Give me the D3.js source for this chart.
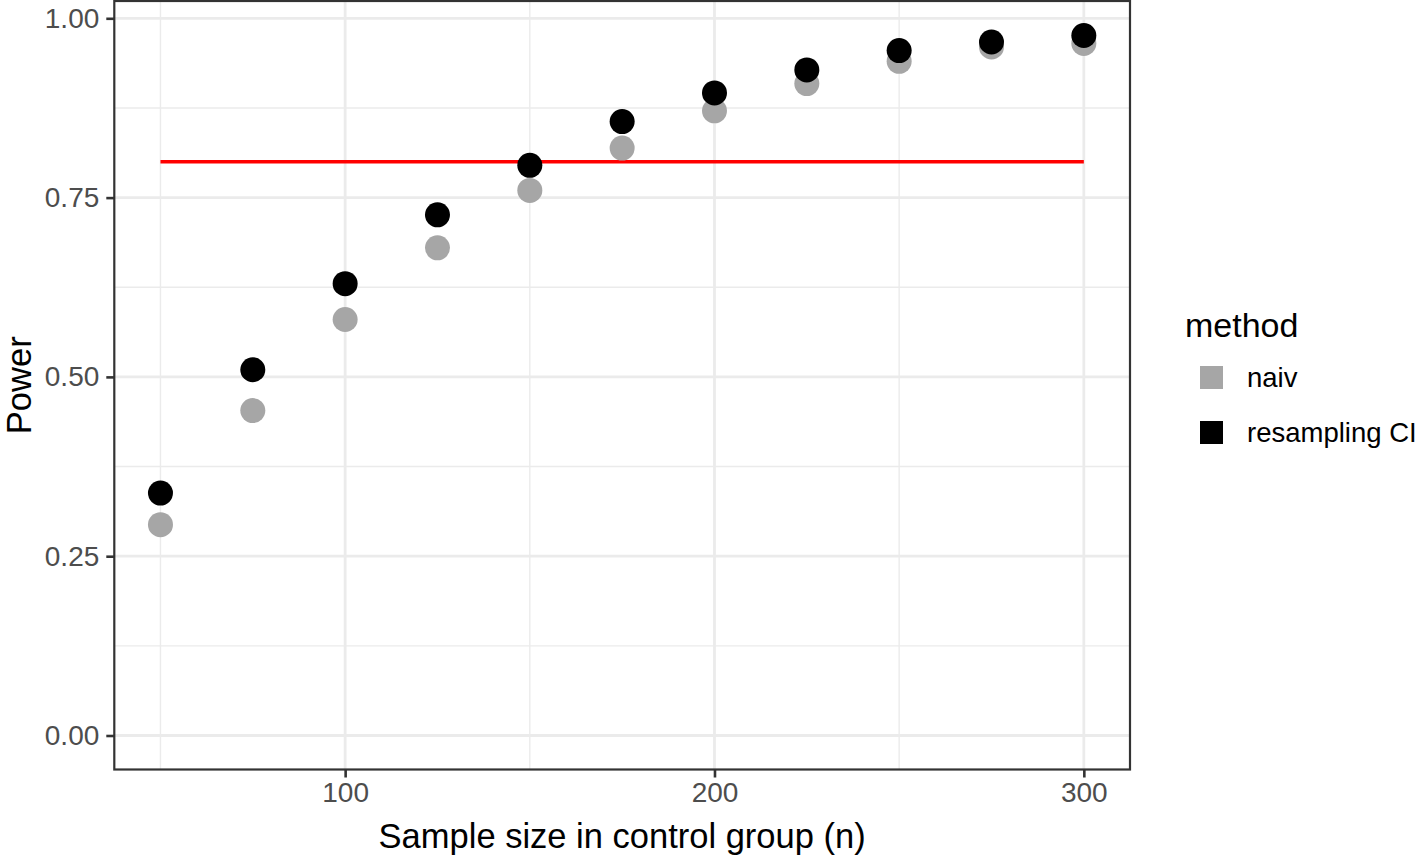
<!DOCTYPE html>
<html>
<head>
<meta charset="utf-8">
<script src="https://cdn.jsdelivr.net/npm/d3@7"></script>
<style>
  body { margin: 0; background: #fff; }
  text { font-family: "Liberation Sans", Arial, Helvetica, sans-serif; }
</style>
</head>
<body>
<div id="chartContainer"></div>
<script>
// data
var sampleSizes = [50, 75, 100, 125, 150, 175, 200, 225, 250, 275, 300];
var naivPower = [0.294, 0.453, 0.580, 0.680, 0.760, 0.819, 0.871, 0.909, 0.940, 0.960, 0.965];
var resamplingPower = [0.338, 0.510, 0.630, 0.726, 0.795, 0.856, 0.896, 0.928, 0.955, 0.967, 0.976];
var targetPower = 0.8;
var xTicks = [100, 200, 300];
var xMinor = [50, 150, 250];
var yTicks = [0, 0.25, 0.5, 0.75, 1];
var yMinor = [0.125, 0.375, 0.625, 0.875];
var methods = ["naiv", "resampling CI"];
var methodColors = ["#a6a6a6", "#000000"];

var width = 1418, height = 856;
var panel = {left: 114.3, right: 1130, top: 1, bottom: 769.5};

var svg = d3.select("#chartContainer").append("svg")
    .attr("width", width)
    .attr("height", height);

var x = d3.scaleLinear().domain([37.5, 312.5]).range([panel.left, panel.right]);
var y = d3.scaleLinear().domain([0, 1]).range([735.5, 18.3]);

// panel background
svg.append("rect")
    .attr("x", panel.left).attr("y", panel.top)
    .attr("width", panel.right - panel.left)
    .attr("height", panel.bottom - panel.top)
    .attr("fill", "#fff");

var grid = svg.append("g");
// minor grid
grid.selectAll(".ymin").data(yMinor).enter().append("line")
    .attr("x1", panel.left).attr("x2", panel.right)
    .attr("y1", function(d){ return y(d); }).attr("y2", function(d){ return y(d); })
    .attr("stroke", "#ebebeb").attr("stroke-width", 1.4);
grid.selectAll(".xmin").data(xMinor).enter().append("line")
    .attr("y1", panel.top).attr("y2", panel.bottom)
    .attr("x1", function(d){ return x(d); }).attr("x2", function(d){ return x(d); })
    .attr("stroke", "#ebebeb").attr("stroke-width", 1.4);
// major grid
grid.selectAll(".ymaj").data(yTicks).enter().append("line")
    .attr("x1", panel.left).attr("x2", panel.right)
    .attr("y1", function(d){ return y(d); }).attr("y2", function(d){ return y(d); })
    .attr("stroke", "#ebebeb").attr("stroke-width", 2.8);
grid.selectAll(".xmaj").data(xTicks).enter().append("line")
    .attr("y1", panel.top).attr("y2", panel.bottom)
    .attr("x1", function(d){ return x(d); }).attr("x2", function(d){ return x(d); })
    .attr("stroke", "#ebebeb").attr("stroke-width", 2.8);

// target line
svg.append("line")
    .attr("x1", x(d3.min(sampleSizes))).attr("x2", x(d3.max(sampleSizes)))
    .attr("y1", y(targetPower)).attr("y2", y(targetPower))
    .attr("stroke", "#ff0000").attr("stroke-width", 3.5);

// points: naiv first, resampling on top
var series = [naivPower, resamplingPower];
series.forEach(function(vals, i){
    svg.append("g").selectAll("circle")
        .data(vals).enter().append("circle")
        .attr("cx", function(d, j){ return x(sampleSizes[j]); })
        .attr("cy", function(d){ return y(d); })
        .attr("r", 12.5)
        .attr("fill", methodColors[i]);
});

// panel border
svg.append("rect")
    .attr("x", panel.left).attr("y", panel.top)
    .attr("width", panel.right - panel.left)
    .attr("height", panel.bottom - panel.top)
    .attr("fill", "none")
    .attr("stroke", "#333333").attr("stroke-width", 2.2);

// axes
var yAxis = d3.axisLeft(y).tickValues(yTicks).tickFormat(d3.format(".2f"))
    .tickSize(8).tickPadding(7);
var yg = svg.append("g").attr("transform", "translate(" + panel.left + ",0)").call(yAxis);
var xAxis = d3.axisBottom(x).tickValues(xTicks).tickFormat(d3.format("d"))
    .tickSize(8).tickPadding(5);
var xg = svg.append("g").attr("transform", "translate(0," + panel.bottom + ")").call(xAxis);

[yg, xg].forEach(function(g){
    g.select(".domain").remove();
    g.selectAll(".tick line").attr("stroke", "#333333").attr("stroke-width", 2.6);
    g.selectAll(".tick text").attr("fill", "#4d4d4d")
        .style("font-size", "28px")
        .style("font-family", "'Liberation Sans', Arial, sans-serif");
});

// axis titles
svg.append("text")
    .attr("x", (panel.left + panel.right) / 2)
    .attr("y", 848)
    .attr("text-anchor", "middle")
    .style("font-size", "34.5px")
    .attr("fill", "#000")
    .text("Sample size in control group (n)");

svg.append("text")
    .attr("transform", "translate(31," + ((panel.top + panel.bottom) / 2) + ") rotate(-90)")
    .attr("text-anchor", "middle")
    .style("font-size", "34.5px")
    .attr("fill", "#000")
    .text("Power");

// legend
var legend = svg.append("g");
legend.append("text")
    .attr("x", 1185).attr("y", 337)
    .style("font-size", "34px")
    .attr("fill", "#000")
    .text("method");

var items = legend.selectAll(".item").data(methods).enter().append("g")
    .attr("transform", function(d, i){ return "translate(1200," + (366 + i * 55) + ")"; });
items.append("rect")
    .attr("width", 23).attr("height", 23)
    .attr("fill", function(d, i){ return methodColors[i]; });
items.append("text")
    .attr("x", 47).attr("y", 21)
    .style("font-size", "27.5px")
    .attr("fill", "#000")
    .text(function(d){ return d; });
</script>
</body>
</html>
